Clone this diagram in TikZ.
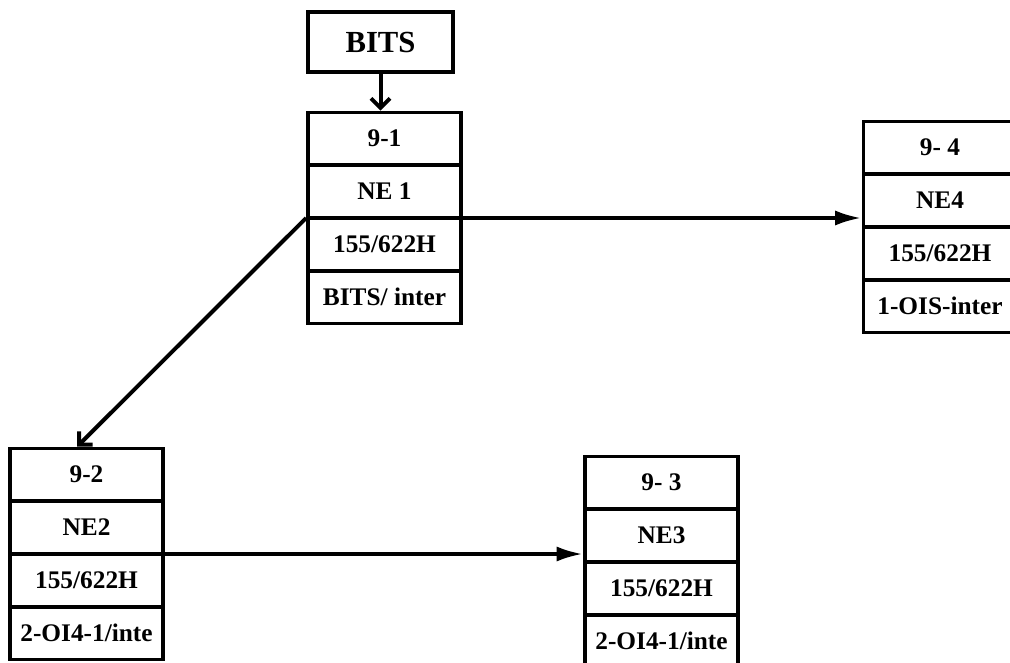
\documentclass[tikz,border=0pt]{standalone}
\usepackage{fontspec}
\setmainfont{Liberation Serif}
\usetikzlibrary{arrows.meta, positioning, shapes.multipart}

\newcommand{\cellrow}[1]{\rule[-12.4pt]{0pt}{37pt}#1}

\begin{document}
\begin{tikzpicture}[
  x=0.75pt, y=-0.75pt,
  ne/.style={rectangle split, rectangle split parts=4, draw, line width=2.6pt,
    minimum width=115pt, inner ysep=0pt, inner xsep=1pt,
    font=\bfseries\fontsize{19}{22}\selectfont},
  clock/.style={draw, line width=2.6pt, minimum width=109pt, minimum height=45pt,
    font=\bfseries\fontsize{23}{26}\selectfont},
  link/.style={-{Latex[length=7mm,width=4mm]}, line width=3pt},
  feed/.style={-{Straight Barb[length=2.5mm,width=5mm]}, line width=3pt}
]
\useasboundingbox (0,0) rectangle (1010,663);

\node[clock] (bits) at (380.5,42) {BITS};

\node[ne] (ne1) at (384.5,218)
  {\cellrow{9-1}\nodepart{two}\cellrow{NE 1}\nodepart{three}\cellrow{155/622H}\nodepart{four}\cellrow{BITS/ inter}};
\node[ne] (ne4) at (940,227)
  {\cellrow{9- 4}\nodepart{two}\cellrow{NE4}\nodepart{three}\cellrow{155/622H}\nodepart{four}\cellrow{1-OIS-inter}};
\node[ne] (ne2) at (86.5,554)
  {\cellrow{9-2}\nodepart{two}\cellrow{NE2}\nodepart{three}\cellrow{155/622H}\nodepart{four}\cellrow{2-OI4-1/inte}};
\node[ne] (ne3) at (661.5,562)
  {\cellrow{9- 3}\nodepart{two}\cellrow{NE3}\nodepart{three}\cellrow{155/622H}\nodepart{four}\cellrow{2-OI4-1/inte}};

% clock feed and links
\draw[feed] (bits.south) -- (bits.south |- ne1.north);
\draw[feed] (ne1.two split west) -- (ne2.95);
\draw[link] (ne1.two split east) -- (ne1.two split east -| ne4.west);
\draw[link] (ne2.two split east) -- (ne2.two split east -| ne3.west);
\end{tikzpicture}
\end{document}
